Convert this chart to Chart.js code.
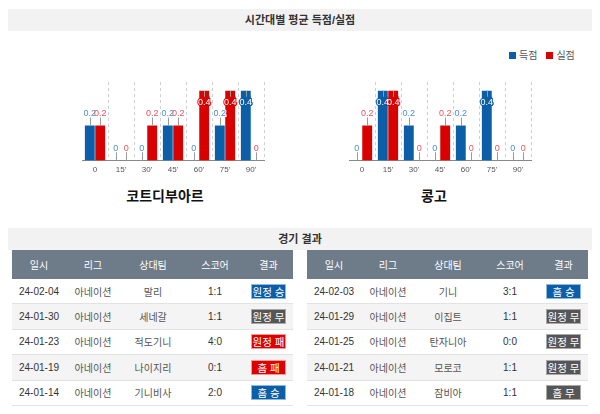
<!DOCTYPE html>
<html lang="ko">
<head>
<meta charset="utf-8">
<script src="https://cdn.jsdelivr.net/npm/chart.js@4"></script>
<style>
  body { margin: 0; background: #fff; font-family: "Liberation Sans", "Noto Sans CJK KR", sans-serif; }
  #page { position: relative; width: 600px; height: 414px; overflow: hidden; }
  .bar-title { position: absolute; left: 8px; width: 584px; height: 22px; line-height: 22px; background: #f2f2f2;
               text-align: center; font-size: 11px; font-weight: bold; color: #333; }
  .legend { position: absolute; top: 47px; left: 509px; font-size: 10px; color: #555; }
  .legend span.sq { display: inline-block; width: 7px; height: 7px; margin-right: 3px; vertical-align: 0px; }
  .legend span.item { margin-right: 9px; }
  .team { position: absolute; top: 185px; width: 160px; text-align: center; font-size: 14px; font-weight: bold; color: #111; }
  canvas { position: absolute; }
  .tbl { position: absolute; top: 250px; width: 281px; }
  .row { display: flex; height: 25.4px; box-sizing: border-box; border-bottom: 1px solid #e2e2e2; align-items: center; font-size: 10px; }
  .row.head { height: 29px; background: #6e7b89; color: #fff; border-bottom: none; }
  .row.alt { background: #f4f4f4; }
  .row div { text-align: center; }
  .c-date { color: #333; }
  .c-lg, .c-opp { color: #555; }
  .c-score { color: #333; }
  .badge { display: inline-block; width: 35px; height: 15px; line-height: 14px; font-size: 10.5px; color: #fff; box-sizing: border-box; }
</style>
</head>
<body>
<div id="page">
  <div class="bar-title" style="top:9px">시간대별 평균 득점/실점</div>
  <div class="legend"><span class="item"><span class="sq" style="background:#0c5ea6"></span>득점</span><span><span class="sq" style="background:#d80000"></span>실점</span></div>

  <canvas id="civChart" width="202" height="108" style="left:72px;top:72px"></canvas>
  <canvas id="congoChart" width="202" height="108" style="left:339px;top:72px"></canvas>
  <div class="team" style="left:85px">코트디부아르</div>
  <div class="team" style="left:354px">콩고</div>

  <div class="bar-title" style="top:228px">경기 결과</div>
  <div class="tbl" id="civTable" style="left:12px"></div>
  <div class="tbl" id="congoTable" style="left:307px"></div>
</div>
<script>
// 시간대별 평균 득점/실점
const timeLabels = ['0', "15'", "30'", "45'", "60'", "75'", "90'"];
const civGoals = [0.2, 0, 0, 0.2, 0, 0.2, 0.4];
const civConceded = [0.2, 0, 0.2, 0.2, 0.4, 0.4, 0];
const congoGoals = [0, 0.4, 0.2, 0, 0.2, 0.4, 0];
const congoConceded = [0.2, 0.4, 0, 0.2, 0, 0, 0];

// 경기 결과
const tableHeads = ['일시', '리그', '상대팀', '스코어', '결과'];
const civDates = ['24-02-04', '24-01-30', '24-01-23', '24-01-19', '24-01-14'];
const civLeagues = ['아네이션', '아네이션', '아네이션', '아네이션', '아네이션'];
const civOpponents = ['말리', '세네갈', '적도기니', '나이지리', '기니비사'];
const civScores = ['1:1', '1:1', '4:0', '0:1', '2:0'];
const civResults = ['원정 승', '원정 무', '원정 패', '홈 패', '홈 승'];
const congoDates = ['24-02-03', '24-01-29', '24-01-25', '24-01-21', '24-01-18'];
const congoLeagues = ['아네이션', '아네이션', '아네이션', '아네이션', '아네이션'];
const congoOpponents = ['기니', '이집트', '탄자니아', '모로코', '잠비아'];
const congoScores = ['3:1', '1:1', '0:0', '1:1', '1:1'];
const congoResults = ['홈 승', '원정 무', '원정 무', '원정 무', '홈 무'];

const BLUE = '#0c5ea6';
const RED = '#d80000';

// 막대 위 값 라벨 + 지시선 (외곽선 먼저, 글자 나중에)
const valueLabels = {
    id: 'valueLabels',
    afterDatasetsDraw(chart) {
        const ctx = chart.ctx;
        const top = chart.chartArea.top;
        const items = [];
        chart.data.datasets.forEach((ds, di) => {
            chart.getDatasetMeta(di).data.forEach((bar, i) => {
                const inside = bar.y - 17 < top;
                items.push({ ds, x: bar.x, y: bar.y, v: String(ds.data[i]), inside, ly: inside ? bar.y + 12 : bar.y - 12 });
            });
        });
        ctx.save();
        ctx.strokeStyle = '#999';
        ctx.lineWidth = 1;
        items.forEach(it => {
            const lx = Math.round(it.x) + 0.5;
            ctx.beginPath();
            if (it.inside) {
                ctx.moveTo(lx, it.y);
                ctx.lineTo(lx, it.y + 6);
            } else {
                ctx.moveTo(lx, it.y - 8);
                ctx.lineTo(lx, it.y);
            }
            ctx.stroke();
        });
        ctx.font = '9px "Liberation Sans", sans-serif';
        ctx.textAlign = 'center';
        ctx.textBaseline = 'middle';
        ctx.lineWidth = 2;
        items.forEach(it => {
            ctx.strokeStyle = it.inside ? it.ds.backgroundColor : '#fff';
            ctx.strokeText(it.v, it.x, it.ly);
        });
        items.forEach(it => {
            ctx.fillStyle = it.inside ? '#fff' : it.ds.labelColor;
            ctx.fillText(it.v, it.x, it.ly);
        });
        ctx.restore();
    }
};

function makeChart(id, goals, conceded) {
    return new Chart(document.getElementById(id), {
        type: 'bar',
        data: {
            labels: timeLabels,
            datasets: [
                { label: '득점', data: goals, backgroundColor: BLUE, labelColor: '#4a8fd2' },
                { label: '실점', data: conceded, backgroundColor: RED, labelColor: '#e8555e' }
            ]
        },
        options: {
            responsive: false,
            animation: false,
            devicePixelRatio: 1,
            categoryPercentage: 0.8,
            barPercentage: 0.95,
            layout: { padding: { left: 10, right: 10, top: 10, bottom: 0 } },
            plugins: { legend: { display: false }, tooltip: { enabled: false } },
            scales: {
                x: {
                    grid: {
                        offset: true,
                        drawTicks: false,
                        color: (c) => (c.index === 0 || c.index === timeLabels.length) ? 'rgba(0,0,0,0)' : '#cfcfcf'
                    },
                    border: { display: true, color: '#888', width: 1, dash: [3, 3] },
                    ticks: { color: '#555', padding: 5, font: { size: 8, family: '"Liberation Sans", sans-serif' } }
                },
                y: { display: false, min: 0, max: 0.45 }
            }
        },
        plugins: [valueLabels]
    });
}

makeChart('civChart', civGoals, civConceded);
makeChart('congoChart', congoGoals, congoConceded);

function badgeStyle(res) {
    if (res.endsWith('승')) return 'background:#0c5ea6;border:1px solid #8db9e0';
    if (res.endsWith('패')) return 'background:#dd0000;border:1px solid #f29a9a';
    return 'background:#565656;border:1px solid #a8a8a8';
}

function buildTable(id, dates, leagues, opps, scores, results) {
    const widths = [54, 54, 66, 58, 49];
    let html = '<div class="row head">' + tableHeads.map((h, i) => `<div style="width:${widths[i]}px">${h}</div>`).join('') + '</div>';
    dates.forEach((d, i) => {
        html += `<div class="row${i % 2 ? ' alt' : ''}">` +
            `<div class="c-date" style="width:${widths[0]}px">${d}</div>` +
            `<div class="c-lg" style="width:${widths[1]}px">${leagues[i]}</div>` +
            `<div class="c-opp" style="width:${widths[2]}px">${opps[i]}</div>` +
            `<div class="c-score" style="width:${widths[3]}px">${scores[i]}</div>` +
            `<div style="width:${widths[4]}px"><span class="badge" style="${badgeStyle(results[i])}">${results[i]}</span></div>` +
            '</div>';
    });
    document.getElementById(id).innerHTML = html;
}

buildTable('civTable', civDates, civLeagues, civOpponents, civScores, civResults);
buildTable('congoTable', congoDates, congoLeagues, congoOpponents, congoScores, congoResults);
</script>
</body>
</html>
